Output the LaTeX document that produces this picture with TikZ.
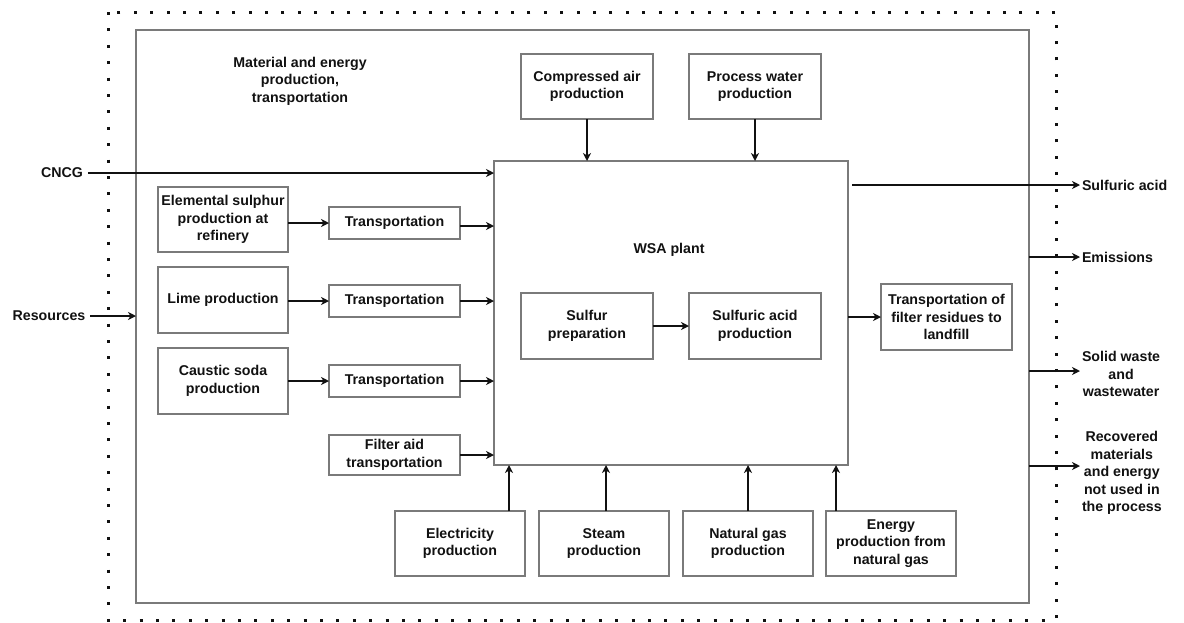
\documentclass[tikz,border=0pt]{standalone}
\usepackage{fontspec}
\setmainfont{Liberation Sans}
\usetikzlibrary{arrows.meta, positioning}
\definecolor{boxgray}{HTML}{7A7A7A}
\definecolor{inkblack}{HTML}{111111}

\begin{document}
\begin{tikzpicture}[
  x=1pt, y=-1pt,
  every node/.style={font=\fontsize{14.2}{17.5}\selectfont\bfseries, text=inkblack},
  box/.style={rectangle, draw=boxgray, line width=1.3pt, minimum width=131pt,
              minimum height=65pt, align=center, inner sep=1pt, outer sep=0pt},
  wbox/.style={box, minimum width=132pt},
  tbox/.style={box, minimum height=32pt},
  io/.style={align=center, inner sep=2pt, outer sep=0pt},
  arr/.style={-{Stealth[length=8pt, width=8pt, inset=2.5pt]}, line width=1.8pt, inkblack},
  dotborder/.style={line width=3pt, dash pattern=on 3pt off 13.4pt, inkblack},
]
  \useasboundingbox (0,0) rectangle (1184,622);
  % System boundaries
  \draw[dotborder] (108,12) rectangle (1056,620);
  \node[draw=boxgray, line width=1.3pt, minimum width=893pt, minimum height=573pt,
        inner sep=0pt, outer sep=0pt] (frame) at (582.5,316.5) {};
  \node[align=center] (matlbl) at (300,81) {Material and energy\\production,\\transportation};
  % WSA plant
  \node[box, minimum width=354pt, minimum height=304pt] (wsa) at (671,313) {};
  \node (wsalbl) at (669,250) {WSA plant};
  \node[wbox, minimum height=66pt] (sprep) at (587,326) {Sulfur\\preparation};
  \node[wbox, minimum height=66pt, right=36pt of sprep] (sacid) {Sulfuric acid\\production};
  % Utilities on top
  \node[wbox] (air) at (587,86.5) {Compressed air\\production};
  \node[wbox, right=36pt of air] (water) {Process water\\production};
  % Chemicals and transport
  \node[box, minimum width=130pt] (sulph) at (223,219.5) {Elemental sulphur\\production at\\refinery};
  \node[box, minimum width=130pt, minimum height=66pt] (lime) at (223,300) {Lime production};
  \node[box, minimum width=130pt, minimum height=66pt] (soda) at (223,381) {Caustic soda\\production};
  \node[tbox] (tr1) at (394.5,223) {Transportation};
  \node[tbox] (tr2) at (394.5,301) {Transportation};
  \node[tbox] (tr3) at (394.5,381) {Transportation};
  \node[tbox, minimum height=40pt] (filt) at (394.5,455) {Filter aid\\transportation};
  % Energy supply
  \node[box, minimum width=130pt] (elec) at (460,543.5) {Electricity\\production};
  \node[box, minimum width=130pt, right=14pt of elec] (steam) {Steam\\production};
  \node[box, minimum width=130pt, right=14pt of steam] (gas) {Natural gas\\production};
  \node[box, minimum width=130pt, right=13pt of gas] (gasen) {Energy\\production from\\natural gas};
  % Residues
  \node[box, minimum height=66pt] (land) at (946.5,317) {Transportation of\\filter residues to\\landfill};
  % Inputs and outputs
  \node[io, inner sep=5pt] (cncg) at (62,173) {CNCG};
  \node[io, inner sep=5pt] (res) at (49,316) {Resources};
  \node[io, anchor=west] (acid) at (1080,185) {Sulfuric acid};
  \node[io, anchor=west] (emi) at (1080,257) {Emissions};
  \node[io, anchor=west] (waste) at (1080,374) {Solid waste\\and\\wastewater};
  \node[io, anchor=west] (recov) at (1080,473) {Recovered\\materials\\and energy\\not used in\\the process};

  % Arrows
  \draw[arr] (cncg.east) -- (cncg.east -| wsa.west);
  \draw[arr] (res.east) -- (res.east -| frame.west);
  \draw[arr] (air.south) -- (air.south |- wsa.north);
  \draw[arr] (water.south) -- (water.south |- wsa.north);
  \draw[arr] (sulph.east |- tr1) -- (tr1.west);
  \draw[arr] (lime.east |- tr2) -- (tr2.west);
  \draw[arr] (soda.east |- tr3) -- (tr3.west);
  \draw[arr] ([yshift=-3pt]tr1.east) -- ([yshift=-3pt]tr1.east -| wsa.west);
  \draw[arr] (tr2.east) -- (tr2.east -| wsa.west);
  \draw[arr] (tr3.east) -- (tr3.east -| wsa.west);
  \draw[arr] (filt.east) -- (filt.east -| wsa.west);
  \draw[arr] (sprep) -- (sacid);
  \draw[arr] (wsa.east |- land) -- (land.west);
  \draw[arr] ([xshift=49pt]elec.north) -- ([xshift=49pt]elec.north |- wsa.south);
  \draw[arr] ([xshift=2pt]steam.north) -- ([xshift=2pt]steam.north |- wsa.south);
  \draw[arr] (gas.north) -- (gas.north |- wsa.south);
  \draw[arr] ([xshift=-55pt]gasen.north) -- ([xshift=-55pt]gasen.north |- wsa.south);
  \draw[arr] ([xshift=4pt]wsa.east |- acid.west) -- (acid.west);
  \draw[arr] (frame.east |- emi.west) -- (emi.west);
  \draw[arr] ([yshift=3pt]waste.west -| frame.east) -- ([yshift=3pt]waste.west);
  \draw[arr] ([yshift=7pt]recov.west -| frame.east) -- ([yshift=7pt]recov.west);
\end{tikzpicture}
\end{document}
